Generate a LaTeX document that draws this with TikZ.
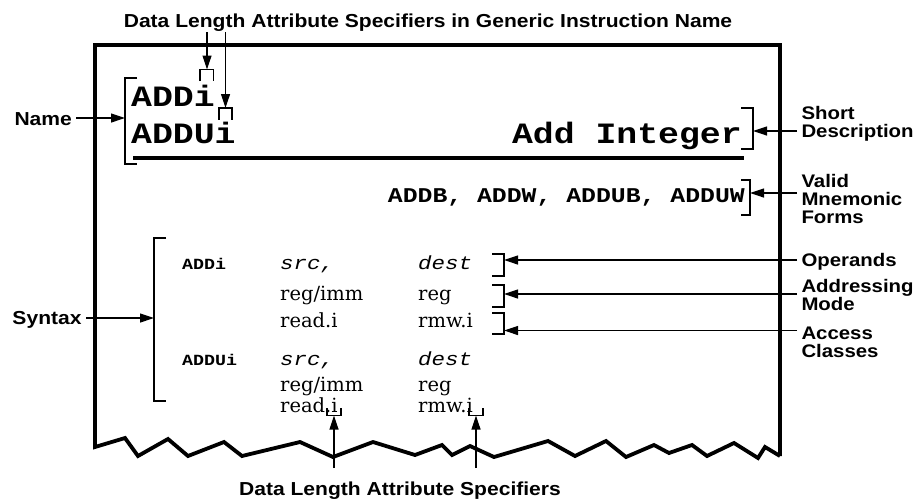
\documentclass[tikz,border=0pt]{standalone}
\usepackage{fontspec}
\usetikzlibrary{arrows.meta}
\newfontfamily\lsans[FakeStretch=1.12]{Liberation Sans}
\newfontfamily\lmono[FakeStretch=1.18]{Liberation Mono}
\newfontfamily\lserif{DejaVu Serif}
\tikzset{
  frameline/.style={line width=3.8pt, line join=miter},
  thinline/.style={line width=1.2pt},
  arr/.style={thinline, -{Triangle[length=14pt,width=9pt]}},
  lbl/.style={font={\lsans\bfseries\fontsize{18.2}{18}\selectfont}, inner sep=0pt, outer sep=4.5pt, align=left, anchor=base west},
  biglbl/.style={lbl, font={\lsans\bfseries\fontsize{18.8}{18}\selectfont}},
  bigname/.style={font={\lmono\bfseries\fontsize{29.5}{30}\selectfont}, inner sep=0pt},
  forms/.style={font={\lmono\bfseries\fontsize{21}{21}\selectfont}, inner sep=0pt},
  synmono/.style={font={\lmono\bfseries\fontsize{15.5}{15}\selectfont}, inner sep=0pt, anchor=base west},
  synit/.style={font={\lmono\itshape\fontsize{19}{19}\selectfont}, inner sep=0pt, anchor=base west},
  synser/.style={font={\lserif\fontsize{19.5}{20}\selectfont}, inner sep=0pt, anchor=base west}
}
\begin{document}
\begin{tikzpicture}[x=1pt,y=-1pt]
\useasboundingbox (0,0) rectangle (915,499);

% frame with jagged bottom
\draw[frameline] (780,456) -- (780,45) -- (95,45) -- (95,447)
  -- (125,438) -- (138,456) -- (168,439) -- (188,456) -- (224,442) -- (242,456)
  -- (300,442) -- (333,457) -- (373,442) -- (415,455) -- (442,445) -- (452,455)
  -- (470,446) -- (494,457) -- (548,441) -- (575,456) -- (606,441) -- (626,457)
  -- (654,445) -- (669,453) -- (692,445) -- (707,456) -- (734,443) -- (758,458)
  -- (765,447) -- (780,456);

% header texts
\node[bigname, anchor=base west] (addi) at (131,106) {ADDi};
\node[bigname, anchor=base west] (addui) at (131,143) {ADDUi};
\node[bigname, anchor=base east] (addint) at (742,143) {Add Integer};
\draw[line width=3.5pt] (133,158) -- (744,158);
\node[forms, anchor=base east] (forms) at (745,202) {ADDB, ADDW, ADDUB, ADDUW};

% syntax rows
\node[synmono] (s1a) at (182,269) {ADDi};
\node[synit] (s1b) at (280,269) {src,};
\node[synit] (s1c) at (418,269) {dest};
\node[synser] (s2b) at (280,300) {reg/imm};
\node[synser] (s2c) at (418,300) {reg};
\node[synser] (s3b) at (280,327.5) {read.i};
\node[synser] (s3c) at (418,327.5) {rmw.i};
\node[synmono] (s4a) at (182,365) {ADDUi};
\node[synit] (s4b) at (280,365) {src,};
\node[synit] (s4c) at (418,365) {dest};
\node[synser] (s5b) at (280,391) {reg/imm};
\node[synser] (s5c) at (418,391) {reg};
\node[synser] (s6b) at (280,412) {read.i};
\node[synser] (s6c) at (418,412) {rmw.i};

% labels
\node[biglbl, anchor=base] (title) at (428,27) {Data Length Attribute Specifiers in Generic Instruction Name};
\node[biglbl] (name) at (10,125) {Name};
\node[biglbl] (syntax) at (8,324) {Syntax};
\node[lbl] (short) at (797,137) {Short\\Description};
\node[lbl] (valid) at (797,223) {Valid\\Mnemonic\\Forms};
\node[lbl] (operands) at (797,266) {Operands};
\node[lbl] (addr) at (797,310) {Addressing\\Mode};
\node[lbl] (access) at (797,357) {Access\\Classes};
\node[biglbl, anchor=base] (bottom) at (400,495) {Data Length Attribute Specifiers};

% brackets
\draw[thinline] (137,78) -- (125,78) -- (125,164) -- (137,164);
\coordinate (nameB) at (125,118);
\draw[thinline] (166,238) -- (154,238) -- (154,401) -- (166,401);
\coordinate (synB) at (154,318);
\draw[thinline] (741,108) -- (753,108) -- (753,149) -- (741,149);
\coordinate (shortB) at (753,131);
\draw[thinline] (741,180) -- (750,180) -- (750,215) -- (741,215);
\coordinate (validB) at (750,193);
\draw[thinline] (492,254) -- (504,254) -- (504,276) -- (492,276);
\coordinate (opB) at (504,260);
\draw[thinline] (492,285) -- (504,285) -- (504,307) -- (492,307);
\coordinate (adB) at (504,294);
\draw[thinline] (492,313) -- (504,313) -- (504,334) -- (492,334);
\coordinate (acB) at (504,330.5);
% small brackets at i
\draw[thinline] (200,81) -- (200,69.5) -- (213.5,69.5) -- (213.5,81);
\coordinate (i1B) at (207,69.5);
\draw[thinline] (219,119.5) -- (219,108) -- (232,108) -- (232,119.5);
\coordinate (i2B) at (225.5,108);
\draw[thinline] (327,408) -- (327,415.5) -- (341,415.5) -- (341,408);
\coordinate (r1B) at (334,415.5);
\draw[thinline] (469,408) -- (469,415.5) -- (483,415.5) -- (483,408);
\coordinate (r2B) at (476,415.5);

% connectors
\draw[arr] (name.east |- nameB) -- (nameB);
\draw[arr] (syntax.east |- synB) -- (synB);
\draw[arr] (short.west |- shortB) -- (shortB);
\draw[arr] (valid.west |- validB) -- (validB);
\draw[arr] (operands.west |- opB) -- (opB);
\draw[arr] (addr.west |- adB) -- (adB);
\draw[arr] (access.west |- acB) -- (acB);
\coordinate (t1) at (207,32);
\coordinate (t2) at (225.5,32);
\draw[arr] (t1) -- (i1B);
\draw[arr] (t2) -- (i2B);
\coordinate (b1) at (334,468);
\coordinate (b2) at (476,468);
\draw[arr] (b1) -- (r1B);
\draw[arr] (b2) -- (r2B);
\end{tikzpicture}
\end{document}
